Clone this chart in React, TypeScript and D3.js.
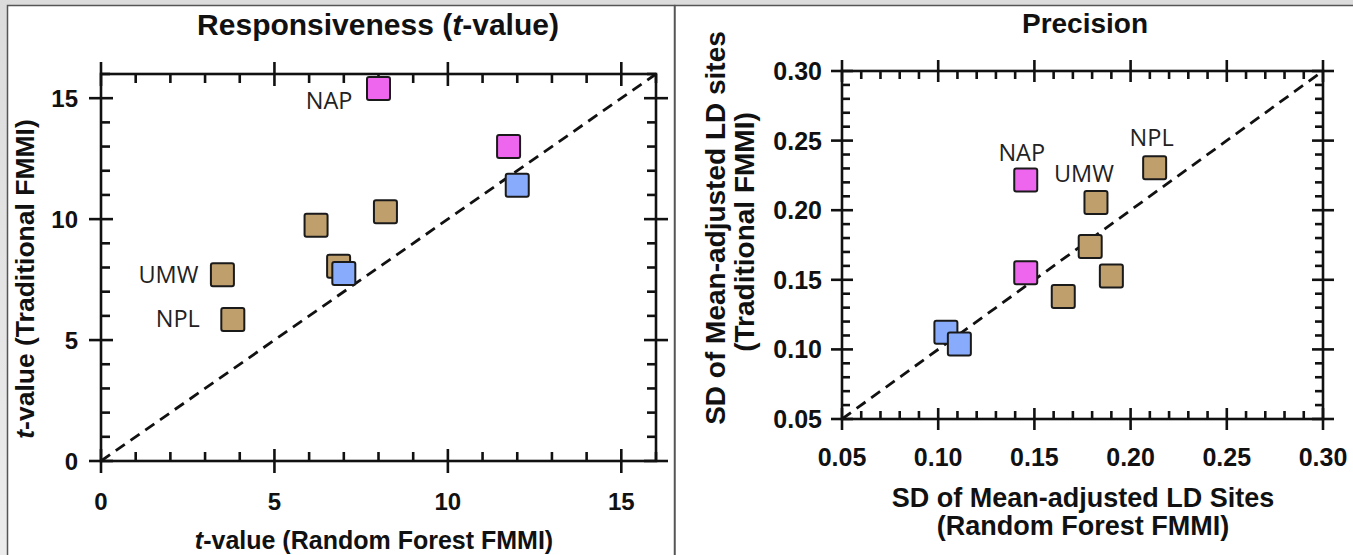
import React from "react";
import * as d3 from "d3";

// ---------- Data ----------
// Responsiveness (t-value): Random Forest FMMI (x) vs Traditional FMMI (y)
const respRF = [3.5, 3.8, 6.2, 6.85, 8.2, 8.0, 11.75, 7.0, 12.0];
const respTrad = [7.7, 5.85, 9.75, 8.05, 10.3, 15.4, 13.0, 7.75, 11.4];
const respGroup = ["tan", "tan", "tan", "tan", "tan", "pink", "pink", "blue", "blue"];
const respLabels = ["UMW", "NPL", "", "", "", "NAP", "", "", ""];

// Precision: SD of mean-adjusted LD sites
const precRF = [0.2125, 0.182, 0.179, 0.19, 0.165, 0.1455, 0.1455, 0.104, 0.111];
const precTrad = [0.2305, 0.2055, 0.174, 0.1527, 0.138, 0.2217, 0.155, 0.1123, 0.1039];
const precGroup = ["tan", "tan", "tan", "tan", "tan", "pink", "pink", "blue", "blue"];
const precLabels = ["NPL", "UMW", "", "", "", "NAP", "", "", ""];

const respTicks = [0, 5, 10, 15];
const precTicks = [0.05, 0.1, 0.15, 0.2, 0.25, 0.3];

const COLORS: Record<string, string> = {
  tan: "#BF9F6C",
  pink: "#EE66EE",
  blue: "#88ABFC",
};

const NUM_FONT = "'Liberation Sans', Arial, Helvetica, sans-serif";
const LABEL_FONT = "'Open Sans', 'Noto Sans', sans-serif";

type Sc = d3.ScaleLinear<number, number>;

function Frame({ x, y, majors, minors, maj, min }: { x: Sc; y: Sc; majors: number[]; minors: number[]; maj: number; min: number }) {
  const [x0, x1] = x.range();
  const [y0, y1] = y.range(); // y0 bottom, y1 top
  const sw = 2.6;
  const els: React.ReactNode[] = [];
  minors.forEach((v, i) => {
    const px = x(v);
    const py = y(v);
    els.push(<line key={"mxb" + i} x1={px} x2={px} y1={y0} y2={y0 - min} />);
    els.push(<line key={"mxt" + i} x1={px} x2={px} y1={y1} y2={y1 + min} />);
    els.push(<line key={"myl" + i} x1={x0} x2={x0 + min} y1={py} y2={py} />);
    els.push(<line key={"myr" + i} x1={x1} x2={x1 - min} y1={py} y2={py} />);
  });
  majors.forEach((v, i) => {
    const px = x(v);
    const py = y(v);
    els.push(<line key={"Mxb" + i} x1={px} x2={px} y1={y0 + maj} y2={y0 - maj} />);
    els.push(<line key={"Mxt" + i} x1={px} x2={px} y1={y1 - maj} y2={y1 + maj} />);
    els.push(<line key={"Myl" + i} x1={x0 - maj} x2={x0 + maj} y1={py} y2={py} />);
    els.push(<line key={"Myr" + i} x1={x1 - maj} x2={x1 + maj} y1={py} y2={py} />);
  });
  return (
    <g stroke="#111" strokeWidth={sw} strokeLinecap="butt">
      <rect x={x0} y={y1} width={x1 - x0} height={y0 - y1} fill="none" />
      {els}
    </g>
  );
}

function Squares({ x, y, xs, ys, groups }: { x: Sc; y: Sc; xs: number[]; ys: number[]; groups: string[] }) {
  const s = 23;
  return (
    <g>
      {xs.map((v, i) => (
        <rect
          key={i}
          x={x(v) - s / 2}
          y={y(ys[i]) - s / 2}
          width={s}
          height={s}
          rx={2}
          fill={COLORS[groups[i]]}
          stroke="#1a1a1a"
          strokeWidth={2}
        />
      ))}
    </g>
  );
}

export default function App() {
  const W = 1353;
  const H = 555;

  const xL = d3.scaleLinear().domain([0, 16]).range([101, 656]);
  const yL = d3.scaleLinear().domain([0, 16]).range([461, 74]);
  const xR = d3.scaleLinear().domain([0.05, 0.3]).range([842, 1323]);
  const yR = d3.scaleLinear().domain([0.05, 0.3]).range([419, 71]);

  const lMinors = d3.range(0, 17).filter((v) => v % 5 !== 0);
  const rMinors = d3.range(5, 31).filter((v) => v % 5 !== 0).map((v) => v / 100);
  const fmt2 = d3.format(".2f");

  const diagL = d3.line<number>().x((d) => xL(d)).y((d) => yL(d))([0, 16]) || "";
  const diagR = d3.line<number>().x((d) => xR(d)).y((d) => yR(d))([0.05, 0.3]) || "";

  const leftLabelPos: Record<string, { dx: number; dy: number; anchor: string }> = {
    NAP: { dx: -26, dy: 11, anchor: "end" },
    UMW: { dx: -24, dy: -1, anchor: "end" },
    NPL: { dx: -33, dy: -2, anchor: "end" },
  };
  const rightLabelPos: Record<string, { dx: number; dy: number; anchor: string }> = {
    NAP: { dx: -4, dy: -28, anchor: "middle" },
    UMW: { dx: -12, dy: -30, anchor: "middle" },
    NPL: { dx: -3, dy: -31, anchor: "middle" },
  };

  return (
    <svg width={W} height={H} style={{ position: "absolute", left: 0, top: 0, display: "block" }}>
      <defs>
        <linearGradient id="bg" x1="0" y1="0" x2="0" y2="1">
          <stop offset="0" stopColor="#dcdcdc" />
          <stop offset="1" stopColor="#ececec" />
        </linearGradient>
      </defs>
      <rect x={0} y={0} width={W} height={H} fill="url(#bg)" />
      <rect x={7.5} y={5.5} width={667} height={H + 10} fill="#fff" stroke="#555" strokeWidth={1.5} />
      <rect x={675} y={5.5} width={W} height={H + 10} fill="#fff" stroke="#555" strokeWidth={1.5} />

      {/* ---------- Left panel ---------- */}
      <text x={378} y={35} textAnchor="middle" fontFamily={NUM_FONT} fontWeight="bold" fontSize={30} fill="#111">
        Responsiveness (<tspan fontStyle="italic">t</tspan>-value)
      </text>
      <path d={diagL} stroke="#111" strokeWidth={2.8} strokeDasharray="11 7" fill="none" />
      <Frame x={xL} y={yL} majors={respTicks} minors={lMinors} maj={12} min={9} />
      {respTicks.map((v) => (
        <text key={"lx" + v} x={xL(v)} y={510} textAnchor="middle" fontFamily={NUM_FONT} fontWeight="bold" fontSize={24} fill="#111">
          {v}
        </text>
      ))}
      {respTicks.map((v) => (
        <text key={"ly" + v} x={78} y={yL(v) + 8.5} textAnchor="end" fontFamily={NUM_FONT} fontWeight="bold" fontSize={24} fill="#111">
          {v}
        </text>
      ))}
      <text x={374} y={549} textAnchor="middle" fontFamily={NUM_FONT} fontWeight="bold" fontSize={25} fill="#111">
        <tspan fontStyle="italic">t</tspan>-value (Random Forest FMMI)
      </text>
      <text transform="translate(34,279) rotate(-90)" textAnchor="middle" fontFamily={NUM_FONT} fontWeight="bold" fontSize={26.5} fill="#111">
        <tspan fontStyle="italic">t</tspan>-value (Traditional FMMI)
      </text>
      <Squares x={xL} y={yL} xs={respRF} ys={respTrad} groups={respGroup} />
      {respLabels.map((t, i) => {
        if (!t) return null;
        const p = leftLabelPos[t];
        return (
          <text key={"ll" + i} x={xL(respRF[i]) + p.dx} y={yL(respTrad[i]) + p.dy} dominantBaseline="central" textAnchor={p.anchor} fontFamily={LABEL_FONT} fontSize={23.5} fill="#222">
            {t}
          </text>
        );
      })}

      {/* ---------- Right panel ---------- */}
      <text x={1085} y={33} textAnchor="middle" fontFamily={NUM_FONT} fontWeight="bold" fontSize={28} fill="#111">
        Precision
      </text>
      <path d={diagR} stroke="#111" strokeWidth={2.8} strokeDasharray="11 7" fill="none" />
      <Frame x={xR} y={yR} majors={precTicks} minors={rMinors} maj={11} min={8} />
      {precTicks.map((v) => (
        <text key={"rx" + v} x={xR(v)} y={466} textAnchor="middle" fontFamily={NUM_FONT} fontWeight="bold" fontSize={25} fill="#111">
          {fmt2(v)}
        </text>
      ))}
      {precTicks.map((v) => (
        <text key={"ry" + v} x={822} y={yR(v) + 9} textAnchor="end" fontFamily={NUM_FONT} fontWeight="bold" fontSize={25} fill="#111">
          {fmt2(v)}
        </text>
      ))}
      <text x={1083} y={507} textAnchor="middle" fontFamily={NUM_FONT} fontWeight="bold" fontSize={27} fill="#111">
        SD of Mean-adjusted LD Sites
      </text>
      <text x={1083} y={535} textAnchor="middle" fontFamily={NUM_FONT} fontWeight="bold" fontSize={27} fill="#111">
        (Random Forest FMMI)
      </text>
      <text transform="translate(725,228) rotate(-90)" textAnchor="middle" fontFamily={NUM_FONT} fontWeight="bold" fontSize={28} fill="#111">
        SD of Mean-adjusted LD sites
      </text>
      <text transform="translate(754,232) rotate(-90)" textAnchor="middle" fontFamily={NUM_FONT} fontWeight="bold" fontSize={28} fill="#111">
        (Traditional FMMI)
      </text>
      <Squares x={xR} y={yR} xs={precRF} ys={precTrad} groups={precGroup} />
      {precLabels.map((t, i) => {
        if (!t) return null;
        const p = rightLabelPos[t];
        return (
          <text key={"rl" + i} x={xR(precRF[i]) + p.dx} y={yR(precTrad[i]) + p.dy} dominantBaseline="central" textAnchor={p.anchor} fontFamily={LABEL_FONT} fontSize={23.5} fill="#222">
            {t}
          </text>
        );
      })}
    </svg>
  );
}
